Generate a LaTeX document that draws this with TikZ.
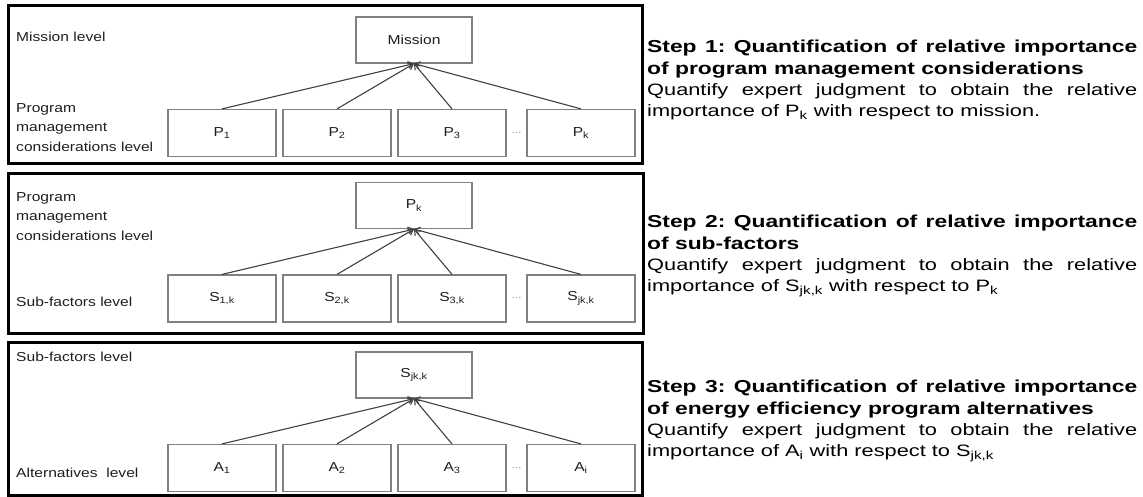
\documentclass[tikz,border=0pt]{standalone}
\usepackage{fontspec}
\setmainfont[FakeStretch=1.2]{Liberation Sans}
\newfontfamily\stepfont[FakeStretch=1.32, WordSpace=1.6]{Liberation Sans}
\newfontfamily\headfont[FakeStretch=1.32]{Liberation Sans}
\usepackage{tikz}
\usepackage{xcolor}
\usetikzlibrary{trees, positioning, arrows.meta}
\definecolor{boxgray}{RGB}{128, 128, 128}
\definecolor{arrowgray}{RGB}{64, 64, 64}
\definecolor{inkgray}{RGB}{30, 30, 30}
\tikzset{
    panel/.style={draw=black, line width=3pt},
    levelbox/.style={rectangle, draw=boxgray, line width=1.2pt, fill=white, text=inkgray, minimum width=108pt, minimum height=47pt, font=\fontsize{13}{16}\selectfont},
    topbox/.style={levelbox, minimum width=116pt, minimum height=46pt},
    levellabel/.style={anchor=south west, inner sep=0pt, align=left, text=inkgray, font=\fontsize{13}{19.8}\selectfont},
    steptext/.style={anchor=north west, inner sep=0pt, text width=490pt, align=justify, text=black,
        font=\stepfont\fontsize{16.5}{21.3}\selectfont\frenchspacing},
    dotsmark/.style={inner sep=0pt, text=boxgray, font=\fontsize{9}{9}\selectfont},
    uparrow/.style={draw=arrowgray, line width=1.1pt, -{Straight Barb[length=5pt, width=7pt]}}
}
\newcommand{\headline}[1]{{\headfont\bfseries\fontsize{17.3}{21.3}\selectfont #1}}

\begin{document}
\begin{tikzpicture}[x=1pt, y=-1pt,
    level distance=93pt, sibling distance=115pt,
    every child node/.style={levelbox, xshift=-19.5pt},
    edge from parent/.style={uparrow},
    edge from parent path={(\tikzchildnode.north) -- (\tikzparentnode.south)}]
    \useasboundingbox (0,0) rectangle (1143,497);
    % step 1
    \draw[panel] (8,6) rectangle (642,164);
    \node[levellabel] (lmission) at (16,41.5) {Mission level};
    \node[levellabel] (lprog) at (16,152) {Program\\management\\considerations level};
    \node[topbox] (mission) at (414,40) {Mission}
        child {node (p1) {P\textsubscript{1}}}
        child {node (p2) {P\textsubscript{2}}}
        child {node (p3) {P\textsubscript{3}}}
        child {node[xshift=14pt] (pk) {P\textsubscript{k}}};
    \path (p3) -- (pk) node[dotsmark, midway] (pdots) {\dots};
    \node[steptext] (step1) at (647,40) {\headline{Step 1: Quantification of relative importance\linebreak of program management considerations}\newline
        Quantify expert judgment to obtain the relative\linebreak importance of P\textsubscript{k} with respect to mission.};
    % step 2
    \draw[panel] (8,174) rectangle (643,333);
    \node[levellabel] (lprog2) at (16,241) {Program\\management\\considerations level};
    \node[levellabel] (lsub) at (16,307) {Sub-factors level};
    \node[topbox] (pktop) at (414,205.5) {P\textsubscript{k}}
        child {node (s1) {S\textsubscript{1,k}}}
        child {node (s2) {S\textsubscript{2,k}}}
        child {node (s3) {S\textsubscript{3,k}}}
        child {node[xshift=14pt] (sjk) {S\textsubscript{jk,k}}};
    \path (s3) -- (sjk) node[dotsmark, midway] (sdots) {\dots};
    \node[steptext] (step2) at (647,215) {\headline{Step 2: Quantification of relative importance\linebreak of sub-factors}\newline
        Quantify expert judgment to obtain the relative\linebreak importance of S\textsubscript{jk,k} with respect to P\textsubscript{k}};
    % step 3
    \draw[panel] (8,342) rectangle (642,495);
    \node[levellabel] (lsub2) at (16,362) {Sub-factors level};
    \node[levellabel] (lalt) at (16,478) {Alternatives\ \ level};
    \node[topbox] (sjktop) at (414,375) {S\textsubscript{jk,k}}
        child {node (a1) {A\textsubscript{1}}}
        child {node (a2) {A\textsubscript{2}}}
        child {node (a3) {A\textsubscript{3}}}
        child {node[xshift=14pt] (ai) {A\textsubscript{i}}};
    \path (a3) -- (ai) node[dotsmark, midway] (adots) {\dots};
    \node[steptext] (step3) at (647,380) {\headline{Step 3: Quantification of relative importance\linebreak of energy efficiency program alternatives}\newline
        Quantify expert judgment to obtain the relative\linebreak importance of A\textsubscript{i} with respect to S\textsubscript{jk,k}};
\end{tikzpicture}
\end{document}
